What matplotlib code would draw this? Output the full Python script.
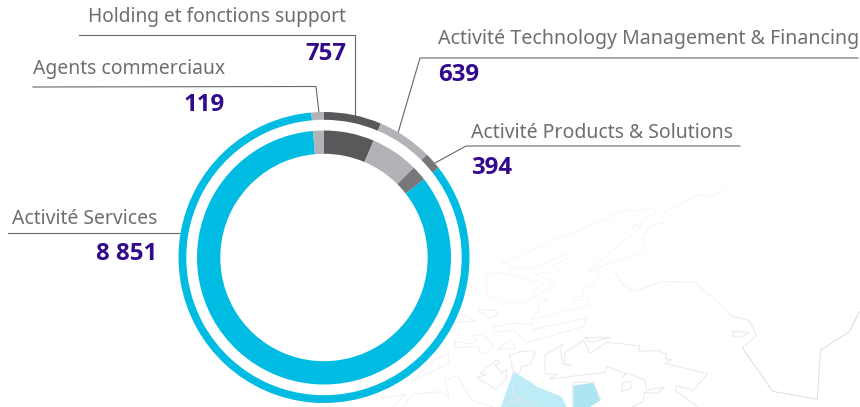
import matplotlib
matplotlib.use("Agg")
import matplotlib.pyplot as plt
from matplotlib.patches import Polygon

# Data
categories = ["Holding et fonctions support", "Activité Technology Management & Financing",
              "Activité Products & Solutions", "Activité Services", "Agents commerciaux"]
value_labels = ["757", "639", "394", "8 851", "119"]
# ring shares (degrees of the circle as drawn in the picture)
ring_shares = [23, 22, 7, 303, 5]
ring_colors = ["#58595b", "#b1b3b6", "#77787b", "#00bce3", "#b1b3b6"]

W, H = 860, 407
TEXT = "#6d6e71"
NUM = "#330a8c"
LINE = "#666769"
FONT = "Noto Sans"
NUMFONT = "Open Sans"

fig = plt.figure(figsize=(W / 100, H / 100), dpi=100)
ax = fig.add_axes([0, 0, 1, 1])
ax.set_xlim(0, W)
ax.set_ylim(H, 0)
ax.axis("off")


def z(points):
    return [(380 + x / 3, 190 + y / 3) for x, y in points]


# decorative background map
blue = [
    ([(400, 545), (450, 575), (470, 590), (545, 620), (560, 651), (363, 651)], "#bdebf6"),
    ([(580, 587), (640, 578), (662, 630), (630, 651), (580, 651)], "#aee5f3"),
]
for pts, c in blue:
    ax.add_patch(Polygon(z(pts), closed=True, fc=c, ec="none", zorder=1))

faint = [
    [(365, 218), (745, 57), (748, 65), (823, 54), (825, 70), (750, 115), (790, 105), (620, 245), (663, 245),
     (640, 285), (612, 297), (610, 318), (575, 325), (578, 335), (628, 325), (628, 345), (450, 390), (475, 365),
     (475, 340), (505, 330), (462, 322), (527, 285), (465, 250), (545, 243), (520, 225), (567, 205), (565, 190),
     (460, 235), (395, 235), (390, 222), (365, 218)],
    [(1030, 0), (990, 20), (955, 14), (850, 70), (853, 97), (815, 105), (785, 145), (800, 182), (620, 245)],
    [(330, 250), (360, 247), (490, 280), (440, 337), (380, 337), (355, 315), (318, 322), (322, 295), (315, 270),
     (330, 250)],
]
mid = [
    [(340, 410), (400, 400), (457, 403), (460, 418), (617, 385), (610, 410), (437, 458), (400, 420), (342, 427),
     (340, 410)],
    [(296, 358), (352, 362), (350, 375), (325, 385), (296, 358)],
    [(225, 455), (270, 462), (290, 452), (280, 437), (310, 433), (340, 467), (332, 482), (300, 492), (295, 470),
     (228, 473), (225, 455)],
    [(355, 478), (390, 450), (407, 477), (355, 478)],
    [(240, 370), (287, 392), (235, 397)],
    [(205, 490), (160, 510), (95, 575), (205, 520), (205, 490)],
    [(0, 625), (75, 613), (40, 651)],
    [(70, 651), (100, 612), (185, 605), (208, 625), (195, 570), (232, 558), (275, 630), (340, 651)],
    [(705, 247), (730, 285), (767, 304), (845, 274), (947, 277), (1060, 380)],
]
dark = [
    [(388, 497), (420, 485), (460, 482), (465, 490), (450, 525), (425, 530), (418, 552), (400, 545), (388, 497)],
    [(350, 510), (300, 550), (320, 553), (290, 562), (347, 598), (380, 565), (380, 538), (365, 548), (345, 525),
     (360, 518), (350, 510)],
    [(550, 462), (495, 495), (495, 552), (530, 552), (508, 567), (675, 547), (680, 530), (735, 550), (725, 565),
     (740, 550), (795, 570), (800, 600), (855, 592), (830, 610), (793, 607), (790, 635), (755, 651)],
    [(550, 462), (540, 475), (548, 522), (575, 527), (555, 522), (552, 490), (610, 450), (630, 490), (680, 457),
     (780, 467), (775, 483), (842, 482), (845, 490), (860, 490), (855, 505), (875, 510), (855, 520), (982, 552),
     (940, 600), (887, 587), (887, 603), (955, 651)],
    [(615, 443), (692, 442), (630, 458), (615, 443)],
    [(730, 577), (750, 575), (755, 595), (724, 605), (730, 577)],
    [(397, 590), (403, 620), (430, 628), (458, 651)],
    [(375, 651), (385, 635), (420, 635), (430, 651)],
    [(578, 651), (578, 577), (640, 576), (662, 630)],
    [(1060, 380), (1108, 391), (1130, 437), (1087, 473)],
    [(1058, 424), (1107, 427), (1080, 443), (1060, 438), (1058, 424)],
]
darker = [
    [(1087, 473), (1178, 604), (1312, 628), (1322, 480), (1408, 425), (1438, 365)],
]
for group, c in ((faint, "#f7f7f7"), (mid, "#f1f1f1"), (dark, "#e9e9e9"), (darker, "#dcdcdc")):
    for pts in group:
        xs, ys = zip(*z(pts))
        ax.plot(xs, ys, color=c, lw=0.7, zorder=2, solid_joinstyle="miter")

# leader lines
leaders = [
    [(79, 35), (355, 35), (355, 116)],
    [(33, 87), (316, 86.5), (319, 113)],
    [(858, 58), (420, 58), (398, 133)],
    [(740, 146), (466, 146), (435, 163)],
    [(8, 233), (181, 233)],
]
for pts in leaders:
    xs, ys = zip(*pts)
    ax.plot(xs, ys, color=LINE, lw=0.8, zorder=3, solid_joinstyle="miter")

# labels
placements = [
    (346, 22, "right", 346, 59.5, "right", 13.85),
    (438, 44, "left", 438, 81, "left", 14.1),
    (471, 138, "left", 471, 174, "left", 14.0),
    (157, 224, "right", 157, 260, "right", 13.95),
    (225, 74, "right", 225, 111, "right", 13.95),
]
for name, val, (tx, ty, ta, nx, ny, na, fs) in zip(categories, value_labels, placements):
    ax.text(tx, ty, name, ha=ta, va="baseline", fontsize=fs, color=TEXT, family=FONT, zorder=4)
    ax.text(nx, ny, val, ha=na, va="baseline", fontsize=17.3, fontweight="bold", color=NUM, family=NUMFONT, zorder=4)

# donut rings
cx, cy, R = 324, 257.5, 145.5
dax = fig.add_axes([(cx - R) / W, 1 - (cy + R) / H, 2 * R / W, 2 * R / H])
dax.patch.set_alpha(0)
for radius, width in ((1.0, 7.8 / R), (127 / R, 23.3 / R)):
    dax.pie(ring_shares, colors=ring_colors, startangle=90, counterclock=False, radius=radius,
            wedgeprops=dict(width=width, edgecolor="none", linewidth=0))
dax.set_xlim(-1, 1)
dax.set_ylim(-1, 1)
dax.axis("off")

fig.savefig("out.png", dpi=100)
